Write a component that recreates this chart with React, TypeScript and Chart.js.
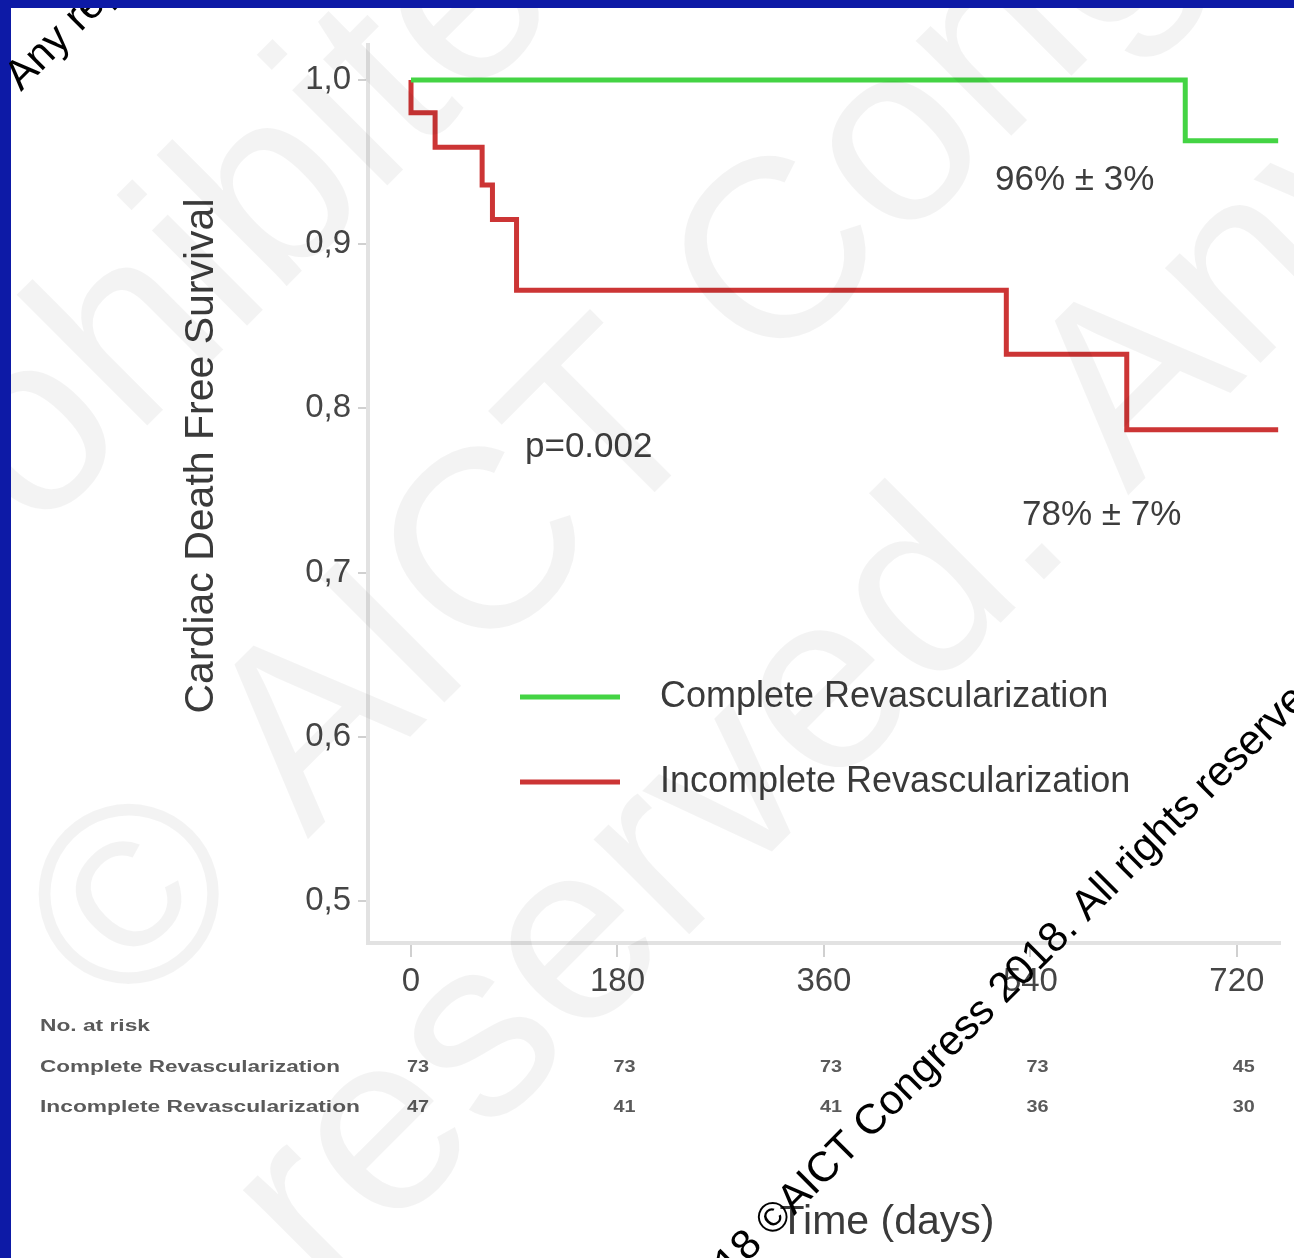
import React, { useEffect, useRef } from 'react';
import { Chart, registerables } from 'chart.js';

Chart.register(...registerables);

// ---------- data ----------
const xTickValues = [0, 180, 360, 540, 720];
const yTickValues = [0.5, 0.6, 0.7, 0.8, 0.9, 1.0];

const completeDays = [0, 675, 756];
const completeSurvival = [1.0, 0.963, 0.963];

const incompleteDays = [0, 0, 21, 62, 71, 92, 519, 624, 756];
const incompleteSurvival = [1.0, 0.98, 0.959, 0.936, 0.915, 0.872, 0.833, 0.787, 0.787];

const seriesNames = ['Complete Revascularization', 'Incomplete Revascularization'];
const riskComplete = [73, 73, 73, 73, 45];
const riskIncomplete = [47, 41, 41, 36, 30];

const completeLabel = '96% ± 3%';
const incompleteLabel = '78% ± 7%';
const pValueLabel = 'p=0.002';
const yTitle = 'Cardiac Death Free Survival';
const xTitle = 'Time (days)';
const riskTitle = 'No. at risk';

const GREEN = '#44d444';
const RED = '#cc3535';
const BLUE = '#0d1aa6';
const FONT = '"Liberation Sans", Arial, sans-serif';

function toWidth(ctx: CanvasRenderingContext2D, text: string, x: number, y: number, w: number, align: CanvasTextAlign) {
  const m = ctx.measureText(text).width;
  const sx = w / m;
  ctx.save();
  ctx.translate(x, y);
  ctx.scale(sx, 1);
  ctx.textAlign = align;
  ctx.fillText(text, 0, 0);
  ctx.restore();
}

function diag(ctx: CanvasRenderingContext2D, text: string, u: number, v: number, align: CanvasTextAlign) {
  ctx.save();
  ctx.rotate(-Math.PI / 4);
  ctx.textAlign = align;
  ctx.textBaseline = 'alphabetic';
  ctx.fillText(text, u, v);
  ctx.restore();
}

const annotPlugin = {
  id: 'annot',
  afterDraw(chart: any) {
    const ctx: CanvasRenderingContext2D = chart.ctx;
    const xs = chart.scales.x;
    ctx.save();

    // curve annotations
    ctx.fillStyle = '#3d3d3d';
    ctx.textBaseline = 'middle';
    ctx.textAlign = 'left';
    ctx.font = `35px ${FONT}`;
    ctx.fillText(completeLabel, 995, 180);
    ctx.fillText(incompleteLabel, 1022, 515);
    ctx.fillText(pValueLabel, 525, 447);

    // legend
    const legendRows = [
      { name: seriesNames[0], color: GREEN, y: 697 },
      { name: seriesNames[1], color: RED, y: 782 },
    ];
    ctx.font = `36px ${FONT}`;
    legendRows.forEach((r) => {
      ctx.strokeStyle = r.color;
      ctx.lineWidth = 5;
      ctx.beginPath();
      ctx.moveTo(520, r.y);
      ctx.lineTo(620, r.y);
      ctx.stroke();
      ctx.fillStyle = '#3a3a3a';
      ctx.fillText(r.name, 660, r.y);
    });

    // axis titles
    ctx.fillStyle = '#3a3a3a';
    ctx.font = `41px ${FONT}`;
    ctx.save();
    ctx.translate(202, 456);
    ctx.rotate(-Math.PI / 2);
    ctx.textAlign = 'center';
    ctx.fillText(yTitle, 0, 0);
    ctx.restore();
    ctx.textAlign = 'center';
    ctx.fillText(xTitle, 887, 1223);

    // numbers at risk
    ctx.fillStyle = '#5a5a5a';
    ctx.font = `bold 16px ${FONT}`;
    toWidth(ctx, riskTitle, 40, 1027, 110, 'left');
    toWidth(ctx, seriesNames[0], 40, 1068, 300, 'left');
    toWidth(ctx, seriesNames[1], 40, 1108, 320, 'left');
    xTickValues.forEach((t, i) => {
      const px = xs.getPixelForValue(t) + 7;
      toWidth(ctx, String(riskComplete[i]), px, 1068, 22, 'center');
      toWidth(ctx, String(riskIncomplete[i]), px, 1108, 22, 'center');
    });

    // faint watermark
    ctx.fillStyle = 'rgba(0,0,0,0.048)';
    ctx.font = `255px ${FONT}`;
    diag(ctx, 'prohibited', -583, 405, 'left');
    diag(ctx, '© AICT Congress', -635, 811, 'left');
    diag(ctx, 'reserved. Any', -687, 1148, 'left');

    // left frame bar
    ctx.fillStyle = BLUE;
    ctx.fillRect(0, 0, 11, 1258);

    // black diagonal notice
    ctx.fillStyle = '#000000';
    ctx.font = `42px ${FONT}`;
    const ax = 772, ay = 1238;
    const au = (ax - ay) / Math.SQRT2;
    const av = (ax + ay) / Math.SQRT2;
    diag(ctx, '©AICT Congress 2018. All rights reserved', au, av, 'left');
    diag(ctx, '2018 ', au, av, 'right');
    diag(ctx, 'Any reproduction is prohibited', (21 - 92) / Math.SQRT2, (21 + 92) / Math.SQRT2, 'left');

    // top frame bar
    ctx.fillStyle = BLUE;
    ctx.fillRect(0, 0, 1294, 8);
    ctx.restore();
  },
};

export default function App() {
  const ref = useRef<HTMLCanvasElement | null>(null);

  useEffect(() => {
    if (!ref.current) return;
    const tickFont = { family: FONT, size: 33 };
    const chart = new Chart(ref.current, {
      type: 'line',
      data: {
        datasets: [
          {
            label: seriesNames[0],
            data: completeDays.map((d, i) => ({ x: d, y: completeSurvival[i] })),
            borderColor: GREEN,
            borderWidth: 5,
            pointRadius: 0,
            stepped: true,
            fill: false,
          },
          {
            label: seriesNames[1],
            data: incompleteDays.map((d, i) => ({ x: d, y: incompleteSurvival[i] })),
            borderColor: RED,
            borderWidth: 5,
            pointRadius: 0,
            stepped: true,
            fill: false,
          },
        ],
      },
      options: {
        responsive: false,
        animation: false,
        layout: { padding: { left: 180, top: 45, right: 14, bottom: 0 } },
        plugins: { legend: { display: false }, tooltip: { enabled: false } },
        scales: {
          x: {
            type: 'linear',
            min: -37.5,
            max: 757.6,
            afterFit: (s: any) => { s.height = 315; },
            afterBuildTicks: (s: any) => { s.ticks = xTickValues.map((v) => ({ value: v })); },
            ticks: {
              font: tickFont,
              color: '#454545',
              padding: 5,
              maxRotation: 0,
              autoSkip: false,
              callback: (v: any) => String(v),
            },
            grid: { drawOnChartArea: false, tickLength: 14, color: '#d0d0d0', lineWidth: 2 },
            border: { color: '#e2e2e2', width: 4 },
          },
          y: {
            type: 'linear',
            min: 0.4744,
            max: 1.0213,
            afterFit: (s: any) => { s.width = 188; },
            afterBuildTicks: (s: any) => { s.ticks = yTickValues.map((v) => ({ value: v })); },
            ticks: {
              font: tickFont,
              color: '#454545',
              padding: 7,
              callback: (v: any) => Number(v).toFixed(1).replace('.', ','),
            },
            grid: { drawOnChartArea: false, tickLength: 10, color: '#d0d0d0', lineWidth: 2 },
            border: { color: '#e2e2e2', width: 4 },
          },
        },
      },
      plugins: [annotPlugin],
    } as any);
    return () => chart.destroy();
  }, []);

  return (
    <div style={{ position: 'absolute', left: 0, top: 0, width: 1294, height: 1258, background: '#ffffff' }}>
      <canvas ref={ref} width={1294} height={1258} style={{ display: 'block' }} />
    </div>
  );
}
